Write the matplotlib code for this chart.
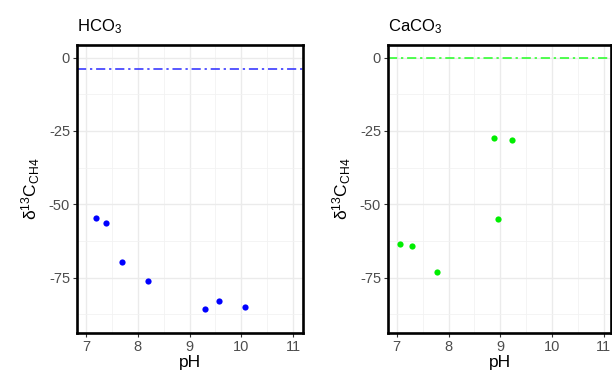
import matplotlib
matplotlib.use("Agg")
import matplotlib.pyplot as plt
from matplotlib.ticker import MultipleLocator

plt.rcParams['font.family'] = ['Liberation Sans', 'DejaVu Sans']
plt.rcParams['mathtext.default'] = 'regular'
plt.rcParams['axes.unicode_minus'] = False

# Data
hco3_ph = [7.2, 7.39, 7.69, 8.19, 9.29, 9.57, 10.07]
hco3_d13c = [-54.8, -56.5, -69.8, -76.3, -85.7, -83.1, -84.9]
hco3_ref = -3.9

caco3_ph = [7.06, 7.29, 7.77, 8.87, 9.22, 8.96]
caco3_d13c = [-63.4, -64.4, -73.1, -27.5, -28.1, -54.9]
caco3_ref = -0.1

panels = [
    ("HCO$_3$", hco3_ph, hco3_d13c, hco3_ref, "#0000ff", "#2a2aff"),
    ("CaCO$_3$", caco3_ph, caco3_d13c, caco3_ref, "#00ee00", "#22ff22"),
]
x_ticks = [7, 8, 9, 10, 11]
y_ticks = [0, -25, -50, -75]

W, H = 612, 382
fig = plt.figure(figsize=(W / 100, H / 100), dpi=100)

boxes = [(77, 303), (388, 611)]
top, bottom = 45, 333
xlims = [(6.826, 11.19), (6.832, 11.137)]
ylim = (-93.9, 4.3)

for (title, xs, ys, ref, pcol, lcol), (l, r), xl in zip(panels, boxes, xlims):
    ax = fig.add_axes([l / W, 1 - bottom / H, (r - l) / W, (bottom - top) / H])
    ax.set_xlim(*xl)
    ax.set_ylim(*ylim)
    ax.set_xticks(x_ticks)
    ax.set_yticks(y_ticks)
    ax.xaxis.set_minor_locator(MultipleLocator(0.5))
    ax.set_yticks([-12.5, -37.5, -62.5, -87.5], minor=True)
    ax.grid(True, which='major', color='#ebebeb', lw=1.0, zorder=0)
    ax.grid(True, which='minor', color='#f2f2f2', lw=0.6, zorder=0)
    ax.set_axisbelow(True)
    ax.tick_params(which='minor', length=0)
    ax.tick_params(which='major', length=3, width=0.8, color='#333333',
                   labelcolor='#4d4d4d', labelsize=10.5, pad=2)
    for s in ax.spines.values():
        s.set_linewidth(1.9)
        s.set_color('black')
    ax.axhline(ref, color=lcol, lw=1.1, linestyle=(0, (6, 2.5, 1.5, 2.5)), zorder=2)
    ax.scatter(xs, ys, s=20, color=pcol, zorder=3, linewidths=0)
    ax.set_title(title, loc='left', fontsize=12, pad=10)
    ax.set_xlabel('pH', fontsize=12.5, labelpad=1)
    ax.set_ylabel('δ$^{13}$C$_{CH4}$', fontsize=12.5, labelpad=5)

fig.savefig('out.png', dpi=100)
